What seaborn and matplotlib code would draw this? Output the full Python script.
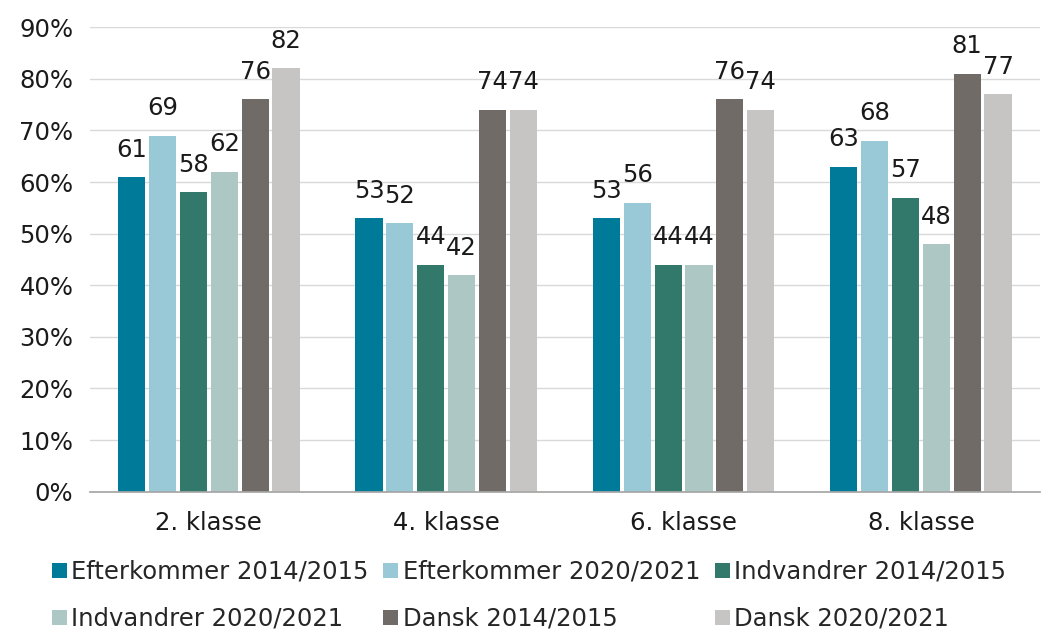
import numpy as np
import pandas as pd
import matplotlib.pyplot as plt
import seaborn as sns
from matplotlib.ticker import FuncFormatter

sns.set_theme(style="white")
plt.rcParams["font.family"] = ["DejaVu Sans"]

classes = ["2. klasse", "4. klasse", "6. klasse", "8. klasse"]
groups = ["Efterkommer 2014/2015", "Efterkommer 2020/2021",
          "Indvandrer 2014/2015", "Indvandrer 2020/2021",
          "Dansk 2014/2015", "Dansk 2020/2021"]
efterkommer_1415 = [61, 53, 53, 63]
efterkommer_2021 = [69, 52, 56, 68]
indvandrer_1415 = [58, 44, 44, 57]
indvandrer_2021 = [62, 42, 44, 48]
dansk_1415 = [76, 74, 76, 81]
dansk_2021 = [82, 74, 74, 77]
colors = ["#007a99", "#99c9d6", "#33796b", "#adc8c4", "#716b67", "#c6c5c4"]

series = [efterkommer_1415, efterkommer_2021, indvandrer_1415,
          indvandrer_2021, dansk_1415, dansk_2021]
rows = []
for g, vals in zip(groups, series):
    for c, v in zip(classes, vals):
        rows.append({"klasse": c, "gruppe": g, "pct": v})
df = pd.DataFrame(rows)

fig = plt.figure(figsize=(10.48, 6.32), dpi=100)
ax = fig.add_axes([0.086, 0.222, 0.906, 0.735])

sns.barplot(data=df, x="klasse", y="pct", hue="gruppe", hue_order=groups,
            order=classes, palette=colors, width=0.78, gap=0.12,
            saturation=1, linewidth=0, ax=ax, legend=True)

for cont in ax.containers:
    ax.bar_label(cont, fmt="%.0f", padding=11, fontsize=17.5, color="#1a1a1a")

ax.set_ylim(0, 90)
ax.set_yticks(range(0, 91, 10))
ax.yaxis.set_major_formatter(FuncFormatter(lambda x, p: f"{x:.0f}%"))
ax.set_xlim(-0.5, 3.5)
ax.yaxis.grid(True, color="#d9d9d9", linewidth=1)
ax.set_axisbelow(True)
ax.set_xlabel("")
ax.set_ylabel("")
for s in ["top", "right", "left"]:
    ax.spines[s].set_visible(False)
ax.spines["bottom"].set_color("#a6a6a6")
ax.tick_params(axis="both", labelsize=17.5, colors="#1a1a1a", length=0)
ax.tick_params(axis="y", pad=12)
ax.tick_params(axis="x", pad=14)

handles, labels = ax.get_legend_handles_labels()
ax.get_legend().remove()
order = [0, 3, 1, 4, 2, 5]
fig.legend([handles[i] for i in order], [labels[i] for i in order],
           loc="center", bbox_to_anchor=(0.505, 0.058), ncol=3, frameon=False,
           fontsize=17.5, handlelength=0.6, handleheight=0.6,
           handletextpad=0.2, columnspacing=0.6, labelspacing=0.95)

fig.savefig("out.png", dpi=100)
